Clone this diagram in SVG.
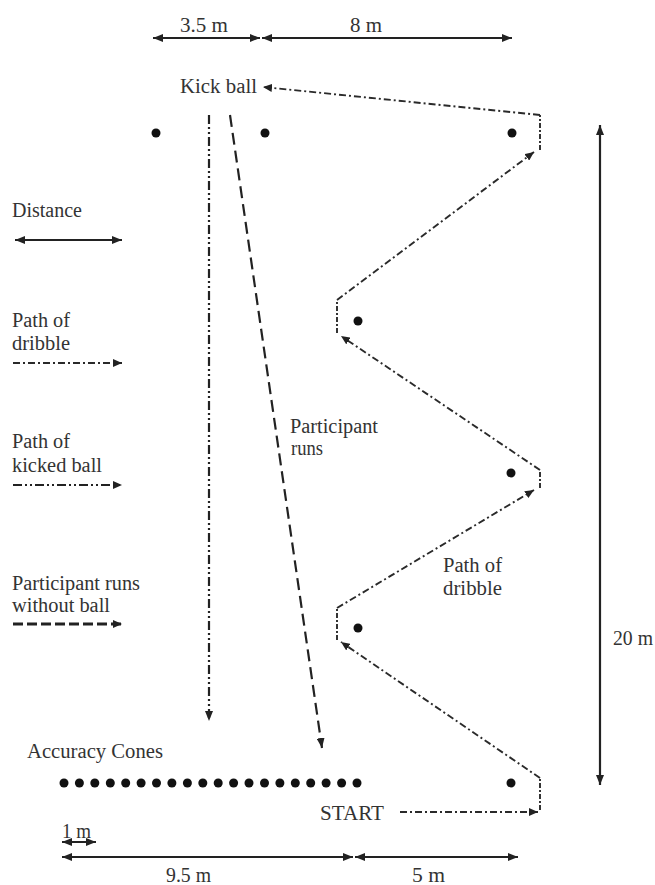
<svg xmlns="http://www.w3.org/2000/svg" width="655" height="885" viewBox="0 0 655 885">
<defs>
<style>
text{font-family:"Liberation Serif","Times New Roman",serif;font-size:20px;fill:#333;}
.dim{stroke:#222;stroke-width:2.2;fill:none;marker-start:url(#ah);marker-end:url(#ah);}
.drib{stroke:#2a2a2a;stroke-width:1.9;fill:none;stroke-dasharray:7 3 2 3;}
.tick{stroke:#2a2a2a;stroke-width:1.9;fill:none;stroke-dasharray:5 2 2 2;}
.kick{stroke:#222;stroke-width:2.2;fill:none;stroke-dasharray:9 3 2 3 2 3;}
.run{stroke:#222;stroke-width:2.2;fill:none;stroke-dasharray:12 6;}
.runleg{stroke:#222;stroke-width:3;fill:none;stroke-dasharray:10 4;}
.dot{fill:#111;}
</style>
<marker id="ah" viewBox="0 0 10 8" refX="10" refY="4" markerWidth="10" markerHeight="8" orient="auto-start-reverse" markerUnits="userSpaceOnUse"><path d="M0,0 L10,4 L0,8 z" fill="#222"/></marker>
<marker id="ahs" viewBox="0 0 9 8" refX="9" refY="4" markerWidth="9" markerHeight="8" orient="auto" markerUnits="userSpaceOnUse"><path d="M0,0 L9,4 L0,8 z" fill="#222"/></marker>
</defs>

<g id="labels">
<text x="180" y="32" textLength="48" lengthAdjust="spacingAndGlyphs">3.5 m</text>
<text x="350" y="32" textLength="32" lengthAdjust="spacingAndGlyphs">8 m</text>
<text x="180" y="93" textLength="77" lengthAdjust="spacingAndGlyphs">Kick ball</text>
<text x="290" y="433" textLength="88" lengthAdjust="spacingAndGlyphs">Participant</text>
<text x="291" y="455" textLength="32" lengthAdjust="spacingAndGlyphs">runs</text>
<text x="443" y="572" textLength="59" lengthAdjust="spacingAndGlyphs">Path of</text>
<text x="443" y="595" textLength="59" lengthAdjust="spacingAndGlyphs">dribble</text>
<text x="27" y="758" textLength="136" lengthAdjust="spacingAndGlyphs">Accuracy Cones</text>
<text x="320" y="820" textLength="64" lengthAdjust="spacingAndGlyphs">START</text>
<text x="62" y="838" textLength="29" lengthAdjust="spacingAndGlyphs">1 m</text>
<text x="166" y="882" textLength="45" lengthAdjust="spacingAndGlyphs">9.5 m</text>
<text x="412" y="882" textLength="33" lengthAdjust="spacingAndGlyphs">5 m</text>
<text x="613" y="645" textLength="40" lengthAdjust="spacingAndGlyphs">20 m</text>
</g>

<g id="legend">
<text x="12" y="217" textLength="70" lengthAdjust="spacingAndGlyphs">Distance</text>
<text x="12" y="327" textLength="58" lengthAdjust="spacingAndGlyphs">Path of</text>
<text x="12" y="350" textLength="58" lengthAdjust="spacingAndGlyphs">dribble</text>
<text x="12" y="448" textLength="58" lengthAdjust="spacingAndGlyphs">Path of</text>
<text x="12" y="472" textLength="90" lengthAdjust="spacingAndGlyphs">kicked ball</text>
<text x="12" y="590" textLength="128" lengthAdjust="spacingAndGlyphs">Participant runs</text>
<text x="12" y="612" textLength="98" lengthAdjust="spacingAndGlyphs">without ball</text>
<line class="dim" x1="15" y1="240" x2="122" y2="240"/>
<line class="drib" x1="13" y1="363" x2="122" y2="363" marker-end="url(#ahs)"/>
<line class="kick" x1="13" y1="485" x2="122" y2="485" marker-end="url(#ahs)"/>
<line class="runleg" x1="13" y1="624" x2="122" y2="624" marker-end="url(#ahs)"/>
</g>

<g id="cones">
<circle class="dot" cx="156" cy="133" r="4.5"/>
<circle class="dot" cx="265" cy="133" r="4.5"/>
<circle class="dot" cx="512" cy="133" r="4.5"/>
<circle class="dot" cx="358" cy="321" r="4.5"/>
<circle class="dot" cx="511" cy="473" r="4.5"/>
<circle class="dot" cx="358" cy="628" r="4.5"/>
<circle class="dot" cx="511" cy="783" r="4.5"/>
</g>

<g id="accuracy-cones">
<circle class="dot" cx="64" cy="783" r="4.5"/>
<circle class="dot" cx="79.4" cy="783" r="4.5"/>
<circle class="dot" cx="94.8" cy="783" r="4.5"/>
<circle class="dot" cx="110.3" cy="783" r="4.5"/>
<circle class="dot" cx="125.7" cy="783" r="4.5"/>
<circle class="dot" cx="141.1" cy="783" r="4.5"/>
<circle class="dot" cx="156.5" cy="783" r="4.5"/>
<circle class="dot" cx="171.9" cy="783" r="4.5"/>
<circle class="dot" cx="187.4" cy="783" r="4.5"/>
<circle class="dot" cx="202.8" cy="783" r="4.5"/>
<circle class="dot" cx="218.2" cy="783" r="4.5"/>
<circle class="dot" cx="233.6" cy="783" r="4.5"/>
<circle class="dot" cx="249" cy="783" r="4.5"/>
<circle class="dot" cx="264.5" cy="783" r="4.5"/>
<circle class="dot" cx="279.9" cy="783" r="4.5"/>
<circle class="dot" cx="295.3" cy="783" r="4.5"/>
<circle class="dot" cx="310.7" cy="783" r="4.5"/>
<circle class="dot" cx="326.1" cy="783" r="4.5"/>
<circle class="dot" cx="341.6" cy="783" r="4.5"/>
<circle class="dot" cx="357" cy="783" r="4.5"/>
</g>

<g id="connectors">
<line class="dim" x1="153" y1="38" x2="260" y2="38"/>
<line class="dim" x1="262" y1="38" x2="512" y2="38"/>
<line class="dim" x1="600" y1="125" x2="600" y2="785"/>
<line class="dim" x1="62" y1="842" x2="96" y2="842"/>
<line class="dim" x1="62" y1="857" x2="353" y2="857"/>
<line class="dim" x1="355" y1="857" x2="518" y2="857"/>

<line class="kick" x1="209" y1="115" x2="209" y2="721" marker-end="url(#ah)"/>
<line class="run" x1="230" y1="115" x2="322" y2="748" marker-end="url(#ah)"/>

<line class="drib" x1="400" y1="812" x2="538" y2="812" marker-end="url(#ahs)"/>
<line class="tick" x1="540" y1="810" x2="540" y2="778"/>
<line class="drib" x1="540" y1="778" x2="341" y2="642" marker-end="url(#ahs)"/>
<line class="tick" x1="337" y1="640" x2="337" y2="608"/>
<line class="drib" x1="337" y1="608" x2="534" y2="490" marker-end="url(#ahs)"/>
<line class="tick" x1="540" y1="488" x2="540" y2="470"/>
<line class="drib" x1="540" y1="470" x2="341" y2="336" marker-end="url(#ahs)"/>
<line class="tick" x1="337" y1="333" x2="337" y2="300"/>
<line class="drib" x1="337" y1="300" x2="534" y2="152" marker-end="url(#ahs)"/>
<line class="tick" x1="540" y1="150" x2="540" y2="115"/>
<line class="drib" x1="540" y1="115" x2="263" y2="87" marker-end="url(#ahs)"/>
</g>
</svg>
